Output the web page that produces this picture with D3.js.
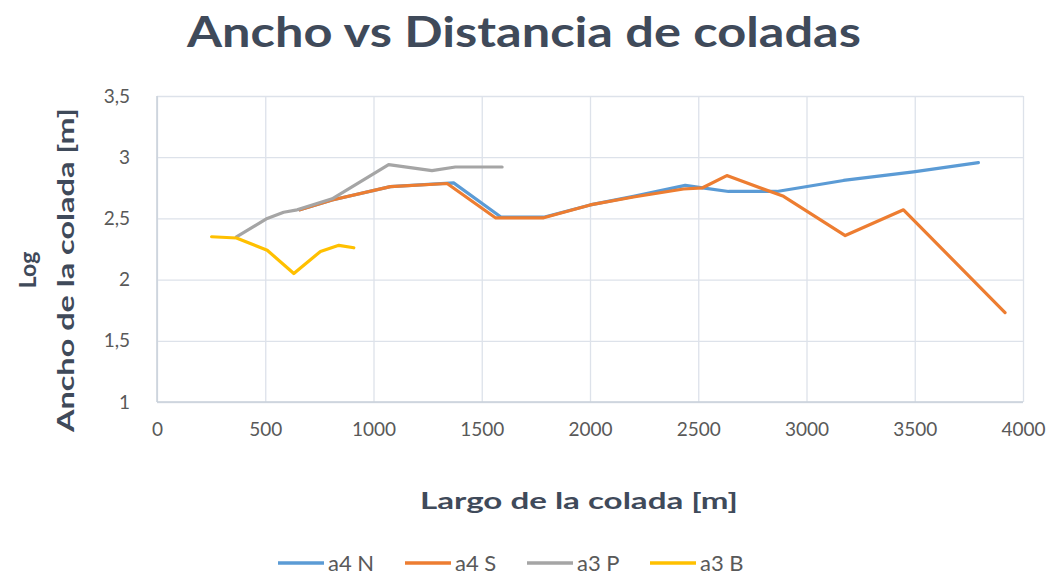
<!DOCTYPE html>
<html>
<head>
<meta charset="utf-8">
<script src="https://cdn.jsdelivr.net/npm/d3@7"></script>
<style>
  html, body { margin: 0; padding: 0; background: #ffffff; }
  svg { display: block; }
</style>
</head>
<body>
<svg id="chart" width="1059" height="578"></svg>
<script>
// Series: [largo (m), log ancho]
const a4N = [
  [660, 2.57], [809, 2.65], [1078, 2.76], [1370, 2.79], [1590, 2.51],
  [1786, 2.51], [2001, 2.61], [2201, 2.68], [2440, 2.77], [2520, 2.75],
  [2640, 2.72], [2863, 2.72], [3171, 2.81], [3494, 2.88], [3794, 2.955]
];
const a4S = [
  [660, 2.57], [809, 2.65], [1078, 2.76], [1340, 2.785], [1563, 2.505],
  [1786, 2.505], [2001, 2.61], [2201, 2.675], [2432, 2.74], [2520, 2.75],
  [2632, 2.85], [2894, 2.68], [3179, 2.36], [3448, 2.57], [3917, 1.73]
];
const a3P = [
  [367, 2.35], [509, 2.50], [585, 2.55], [647, 2.57], [809, 2.66],
  [1070, 2.94], [1270, 2.89], [1378, 2.92], [1594, 2.92]
];
const a3B = [
  [252, 2.35], [367, 2.34], [509, 2.24], [632, 2.05], [755, 2.23],
  [840, 2.28], [909, 2.26]
];

const seriesNames = ["a4 N", "a4 S", "a3 P", "a3 B"];
const seriesData = [a4N, a4S, a3P, a3B];
const seriesColors = ["#5B9BD5", "#ED7D31", "#A5A5A5", "#FFC000"];

const xTicks = [0, 500, 1000, 1500, 2000, 2500, 3000, 3500, 4000];
const yTicks = [1, 1.5, 2, 2.5, 3, 3.5];

const titleText = "Ancho vs Distancia de coladas";
const xTitle = "Largo de la colada [m]";
const yTitleLines = ["Log", "Ancho de la colada [m]"];

const svg = d3.select("#chart");
const plot = { left: 157, right: 1023, top: 96, bottom: 402 };

const x = d3.scaleLinear().domain([0, 4000]).range([plot.left, plot.right]);
const y = d3.scaleLinear().domain([1, 3.5]).range([plot.bottom, plot.top]);

const fmt = v => String(v).replace(".", ",");
const fontFam = "Lato, 'Open Sans', sans-serif";
const titleColor = "#3f4a5a";
const tickColor = "#595959";
const gridColor = "#dde2ea";

// Gridlines
svg.append("g")
  .attr("transform", `translate(0,${plot.bottom})`)
  .call(d3.axisBottom(x).tickValues(xTicks).tickSize(-(plot.bottom - plot.top)).tickFormat(""))
  .call(g => g.select(".domain").remove())
  .call(g => g.selectAll("line").attr("stroke", gridColor).attr("stroke-width", 1.3));

svg.append("g")
  .attr("transform", `translate(${plot.left},0)`)
  .call(d3.axisLeft(y).tickValues(yTicks).tickSize(-(plot.right - plot.left)).tickFormat(""))
  .call(g => g.select(".domain").remove())
  .call(g => g.selectAll("line").attr("stroke", gridColor).attr("stroke-width", 1.3));

// Axis lines
svg.append("line")
  .attr("x1", plot.left).attr("x2", plot.left)
  .attr("y1", plot.top).attr("y2", plot.bottom)
  .attr("stroke", "#c9d0da").attr("stroke-width", 1.5);
svg.append("line")
  .attr("x1", plot.left).attr("x2", plot.right)
  .attr("y1", plot.bottom).attr("y2", plot.bottom)
  .attr("stroke", "#c9d0da").attr("stroke-width", 1.5);

// Tick labels
svg.append("g")
  .attr("transform", `translate(0,${plot.bottom + 17})`)
  .call(d3.axisBottom(x).tickValues(xTicks).tickSize(0).tickFormat(d => fmt(d)))
  .call(g => g.select(".domain").remove())
  .call(g => g.selectAll("text")
    .attr("fill", tickColor).attr("font-family", fontFam).attr("font-size", 19));

svg.append("g")
  .attr("transform", `translate(${plot.left - 24},0)`)
  .call(d3.axisLeft(y).tickValues(yTicks).tickSize(0).tickFormat(d => fmt(d)))
  .call(g => g.select(".domain").remove())
  .call(g => g.selectAll("text")
    .attr("fill", tickColor).attr("font-family", fontFam).attr("font-size", 19));

// Lines
const line = d3.line().x(d => x(d[0])).y(d => y(d[1]));
seriesData.forEach((data, i) => {
  svg.append("path")
    .datum(data)
    .attr("fill", "none")
    .attr("stroke", seriesColors[i])
    .attr("stroke-width", 3.2)
    .attr("stroke-linejoin", "round")
    .attr("stroke-linecap", "round")
    .attr("d", line);
});

// Title
svg.append("text")
  .attr("x", 524).attr("y", 47)
  .attr("text-anchor", "middle")
  .attr("font-family", fontFam).attr("font-weight", "bold")
  .attr("font-size", 42)
  .attr("textLength", 674).attr("lengthAdjust", "spacingAndGlyphs")
  .attr("fill", titleColor)
  .text(titleText);

// X axis title
svg.append("text")
  .attr("x", 579).attr("y", 509)
  .attr("text-anchor", "middle")
  .attr("font-family", fontFam).attr("font-weight", "bold")
  .attr("font-size", 23)
  .attr("textLength", 318).attr("lengthAdjust", "spacingAndGlyphs")
  .attr("fill", titleColor)
  .text(xTitle);

// Y axis title (two lines, rotated)
const yt = svg.append("text")
  .attr("transform", "translate(36,270) rotate(-90)")
  .attr("text-anchor", "middle")
  .attr("font-family", fontFam).attr("font-weight", "bold")
  .attr("font-size", 23)
  .attr("fill", titleColor);
yt.append("tspan").attr("x", 0).attr("dy", 0).text(yTitleLines[0]);
yt.append("tspan").attr("x", 0).attr("dy", 38)
  .attr("textLength", 324).attr("lengthAdjust", "spacingAndGlyphs")
  .text(yTitleLines[1]);

// Legend
const legendX = [278, 405, 527, 650];
const legend = svg.append("g");
seriesNames.forEach((name, i) => {
  const gx = legendX[i];
  legend.append("line")
    .attr("x1", gx).attr("x2", gx + 46)
    .attr("y1", 563).attr("y2", 563)
    .attr("stroke", seriesColors[i]).attr("stroke-width", 3.4);
  legend.append("text")
    .attr("x", gx + 50).attr("y", 571)
    .attr("font-family", fontFam).attr("font-size", 22)
    .attr("fill", tickColor)
    .text(name);
});
</script>
</body>
</html>
